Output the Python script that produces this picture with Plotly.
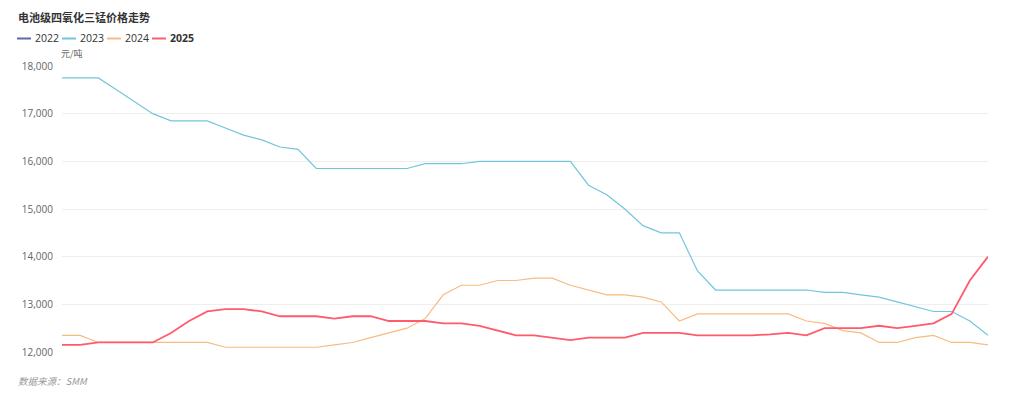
import plotly.graph_objects as go

weeks = list(range(52))

s2022 = [None] * 52

s2023 = [17750, 17750, 17750, 17500, 17250, 17000, 16850, 16850, 16850, 16700,
         16550, 16450, 16300, 16250, 15850, 15850, 15850, 15850, 15850, 15850,
         15950, 15950, 15950, 16000, 16000, 16000, 16000, 16000, 16000, 15500,
         15300, 15000, 14650, 14500, 14500, 13700, 13300, 13300, 13300, 13300,
         13300, 13300, 13250, 13250, 13200, 13150, 13050, 12950, 12850, 12850,
         12650, 12350]

s2024 = [12350, 12350, 12200, 12200, 12200, 12200, 12200, 12200, 12200, 12100,
         12100, 12100, 12100, 12100, 12100, 12150, 12200, 12300, 12400, 12500,
         12700, 13200, 13400, 13400, 13500, 13500, 13550, 13550, 13400, 13300,
         13200, 13200, 13150, 13050, 12650, 12800, 12800, 12800, 12800, 12800,
         12800, 12650, 12600, 12450, 12400, 12200, 12200, 12300, 12350, 12200,
         12200, 12150]

s2025 = [12150, 12150, 12200, 12200, 12200, 12200, 12400, 12650, 12850, 12900,
         12900, 12850, 12750, 12750, 12750, 12700, 12750, 12750, 12650, 12650,
         12650, 12600, 12600, 12550, 12450, 12350, 12350, 12300, 12250, 12300,
         12300, 12300, 12400, 12400, 12400, 12350, 12350, 12350, 12350, 12370,
         12400, 12350, 12500, 12500, 12500, 12550, 12500, 12550, 12600, 12800,
         13500, 14000]

series_names = ["2022", "2023", "2024", "2025"]
series_data = [s2022, s2023, s2024, s2025]
colors = ["#5a6aa6", "#72c6d9", "#f8bb80", "#ff5b6c"]
widths = [1.2, 1.2, 1.2, 1.8]

ytick_vals = [12000, 13000, 14000, 15000, 16000, 17000, 18000]
ytick_text = ["12,000", "13,000", "14,000", "15,000", "16,000", "17,000", "18,000"]

W, H = 1024, 399
L, R, T, B = 62, 36, 66, 47
PW = W - L - R
PH = H - T - B

def px(x):
    return (x - L) / PW

def py(y):
    return 1 - (y - T) / PH

fig = go.Figure()
for name, data, c, w in zip(series_names, series_data, colors, widths):
    fig.add_trace(go.Scatter(x=weeks, y=data, mode="lines", name=name,
                             line=dict(color=c, width=w), showlegend=False,
                             connectgaps=False))

font_fam = "Open Sans, Noto Sans CJK SC, sans-serif"
cjk = "Noto Sans CJK SC, sans-serif"

annotations = [
    dict(text="<b>电池级四氧化三锰价格走势</b>", x=px(16), y=py(17), xref="paper", yref="paper",
         xanchor="left", yanchor="middle", showarrow=False,
         font=dict(family=cjk, size=11, color="#333333")),
    dict(text="元/吨", x=px(59), y=py(53), xref="paper", yref="paper",
         xanchor="left", yanchor="middle", showarrow=False,
         font=dict(family=cjk, size=9, color="#666666")),
    dict(text="<i>数据来源：SMM</i>", x=px(16), y=py(381), xref="paper", yref="paper",
         xanchor="left", yanchor="middle", showarrow=False,
         font=dict(family=cjk, size=9.5, color="#999999")),
]
shapes = []
leg_x = [17, 62, 107, 152]
for i, (name, c) in enumerate(zip(series_names, colors)):
    x0 = leg_x[i]
    shapes.append(dict(type="line", xref="paper", yref="paper",
                       x0=px(x0), x1=px(x0 + 14), y0=py(38.5), y1=py(38.5),
                       line=dict(color=c, width=2)))
    txt = f"<b>{name}</b>" if name == "2025" else name
    annotations.append(dict(text=txt, x=px(x0 + 16), y=py(38.5), xref="paper", yref="paper",
                            xanchor="left", yanchor="middle", showarrow=False,
                            font=dict(family=font_fam, size=10.5,
                                      color="#333333")))

fig.update_layout(
    width=W, height=H,
    margin=dict(l=L, r=R, t=T, b=B),
    paper_bgcolor="white", plot_bgcolor="white",
    annotations=annotations, shapes=shapes,
    xaxis=dict(range=[0, 51], showticklabels=False, showgrid=False,
               zeroline=False, showline=False, ticks=""),
    yaxis=dict(range=[12000, 18000], tickvals=ytick_vals, ticktext=ytick_text,
               showgrid=True, gridcolor="#eeeeee", gridwidth=1, zeroline=False,
               showline=False, ticks="", ticklabelstandoff=8,
               tickfont=dict(family=font_fam, size=10, color="#666666")),
    hovermode="x unified",
)

fig.write_html("out.html")
